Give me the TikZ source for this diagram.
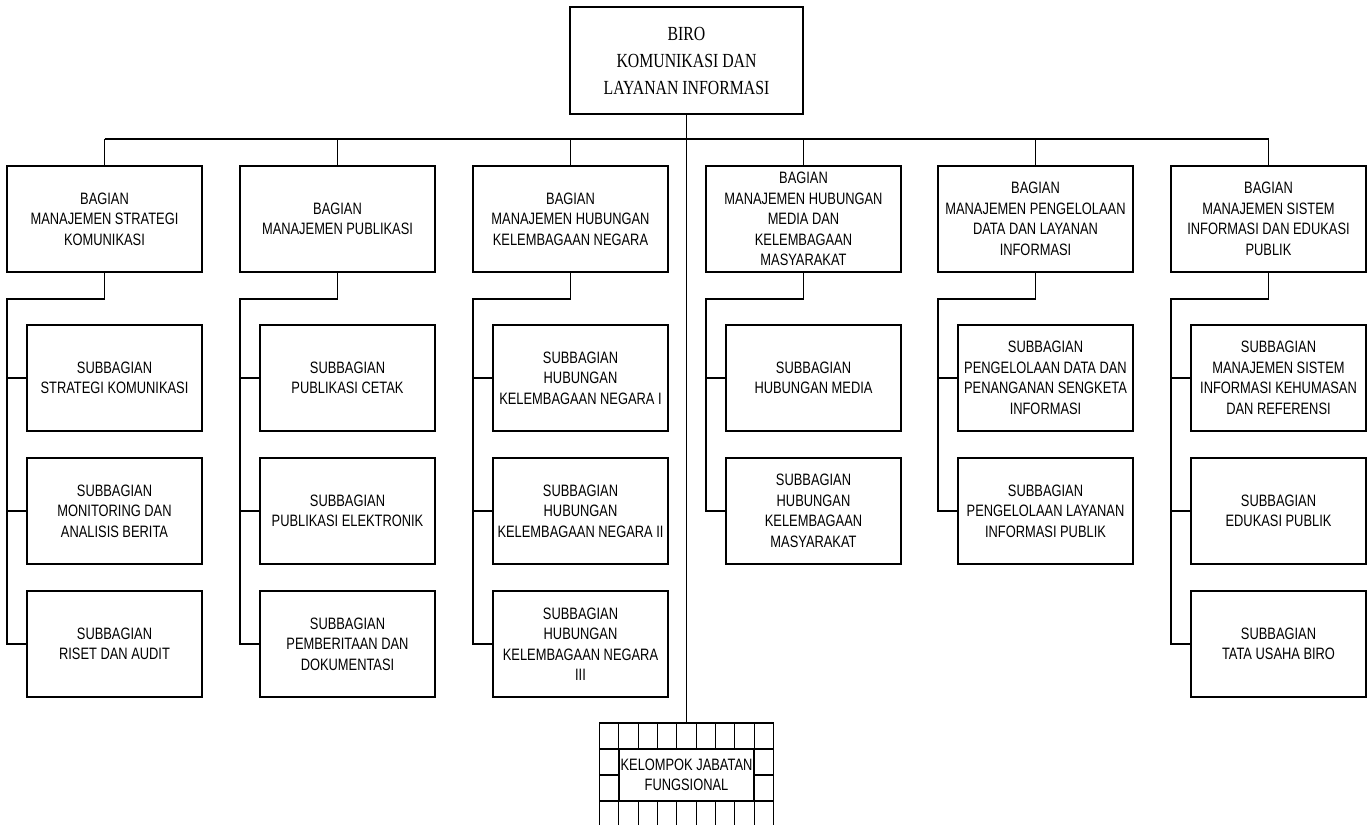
\documentclass[tikz,border=0pt]{standalone}
\usepackage{fontspec}
\usetikzlibrary{calc}
\newfontfamily\narrowsans[FakeStretch=0.78]{Liberation Sans}
\newfontfamily\narrowserif[FakeStretch=0.79]{Liberation Serif}
\begin{document}
\begin{tikzpicture}[x=1pt,y=-1pt,line width=1.2pt,
  unitbox/.style={draw, line width=1.2pt, inner sep=0pt, outer sep=0pt, align=center,
    font=\narrowsans\fontsize{16.5}{20.5}\selectfont},
  bagbox/.style={unitbox, minimum width=195pt, minimum height=106pt},
  subbox/.style={unitbox, minimum width=175pt, minimum height=106pt},
  link/.style={draw, line width=1.2pt}]
\useasboundingbox (0,0) rectangle (1369,825);

% head of the bureau
\node[draw, inner sep=0pt, outer sep=0pt, minimum width=233pt, minimum height=107pt, align=center,
  font=\narrowserif\fontsize{20}{27}\selectfont] (biro) at (686.5,60.5)
  {BIRO\\KOMUNIKASI DAN\\LAYANAN INFORMASI};

% divisions
\node[bagbox] (b1) at (104.5,219) {BAGIAN\\MANAJEMEN STRATEGI\\KOMUNIKASI};
\node[bagbox] (b2) at (337.5,219) {BAGIAN\\MANAJEMEN PUBLIKASI};
\node[bagbox] (b3) at (570.5,219) {BAGIAN\\MANAJEMEN HUBUNGAN\\KELEMBAGAAN NEGARA};
\node[bagbox] (b4) at (803.5,219) {BAGIAN\\MANAJEMEN HUBUNGAN\\MEDIA DAN\\KELEMBAGAAN\\MASYARAKAT};
\node[bagbox] (b5) at (1035.5,219) {BAGIAN\\MANAJEMEN PENGELOLAAN\\DATA DAN LAYANAN\\INFORMASI};
\node[bagbox] (b6) at (1268.5,219) {BAGIAN\\MANAJEMEN SISTEM\\INFORMASI DAN EDUKASI\\PUBLIK};

% sub-divisions
\node[subbox] (s11) at (114.5,378) {SUBBAGIAN\\STRATEGI KOMUNIKASI};
\node[subbox] (s12) at (114.5,511) {SUBBAGIAN\\MONITORING DAN\\ANALISIS BERITA};
\node[subbox] (s13) at (114.5,644) {SUBBAGIAN\\RISET DAN AUDIT};

\node[subbox] (s21) at (347.5,378) {SUBBAGIAN\\PUBLIKASI CETAK};
\node[subbox] (s22) at (347.5,511) {SUBBAGIAN\\PUBLIKASI ELEKTRONIK};
\node[subbox] (s23) at (347.5,644) {SUBBAGIAN\\PEMBERITAAN DAN\\DOKUMENTASI};

\node[subbox] (s31) at (580.5,378) {SUBBAGIAN\\HUBUNGAN\\KELEMBAGAAN NEGARA I};
\node[subbox] (s32) at (580.5,511) {SUBBAGIAN\\HUBUNGAN\\KELEMBAGAAN NEGARA II};
\node[subbox] (s33) at (580.5,644) {SUBBAGIAN\\HUBUNGAN\\KELEMBAGAAN NEGARA\\III};

\node[subbox] (s41) at (813.5,378) {SUBBAGIAN\\HUBUNGAN MEDIA};
\node[subbox] (s42) at (813.5,511) {SUBBAGIAN\\HUBUNGAN\\KELEMBAGAAN\\MASYARAKAT};

\node[subbox] (s51) at (1045.5,378) {SUBBAGIAN\\PENGELOLAAN DATA DAN\\PENANGANAN SENGKETA\\INFORMASI};
\node[subbox] (s52) at (1045.5,511) {SUBBAGIAN\\PENGELOLAAN LAYANAN\\INFORMASI PUBLIK};

\node[subbox] (s61) at (1278.5,378) {SUBBAGIAN\\MANAJEMEN SISTEM\\INFORMASI KEHUMASAN\\DAN REFERENSI};
\node[subbox] (s62) at (1278.5,511) {SUBBAGIAN\\EDUKASI PUBLIK};
\node[subbox] (s63) at (1278.5,644) {SUBBAGIAN\\TATA USAHA BIRO};

% functional group block
\node[inner sep=0pt, outer sep=0pt, minimum width=174pt, minimum height=104pt] (kjf) at (686.5,775) {};
\node[unitbox, minimum width=135pt, minimum height=52pt] (kjftext) at (686.5,775) {KELOMPOK JABATAN\\FUNGSIONAL};
\draw (kjf.south west) |- (kjf.north east) -- (kjf.south east);
\foreach \k in {1,...,8} {
  \draw ($(kjf.north west)!\k/9!(kjf.north east)$) -- ++(0,26);
  \draw ($(kjf.south west)!\k/9!(kjf.south east)$) -- ++(0,-26);
}
\draw (kjf.west |- kjftext.north) -- (kjftext.north west);
\draw (kjf.west) -- (kjftext.west);
\draw (kjf.west |- kjftext.south) -- (kjftext.south west);
\draw (kjf.east |- kjftext.north) -- (kjftext.north east);
\draw (kjf.east) -- (kjftext.east);
\draw (kjf.east |- kjftext.south) -- (kjftext.south east);

% main bus
\coordinate (busL) at (104.5,139);
\coordinate (busR) at (1268.5,139);
\draw[link] (busL) -- (busR);
\draw[link] (biro.south) -- (kjf.north);
\foreach \b in {b1,b2,b3,b4,b5,b6}
  \draw[link] (\b.north) -- (\b.north |- busL);

% spines to sub-divisions
\coordinate (j1) at (7,299);
\coordinate (j2) at (240,299);
\coordinate (j3) at (473,299);
\coordinate (j4) at (706,299);
\coordinate (j5) at (938,299);
\coordinate (j6) at (1171,299);

\draw[link] (b1.south) |- (j1) |- (s13.west);
\draw[link] (j1 |- s11.west) -- (s11.west);
\draw[link] (j1 |- s12.west) -- (s12.west);

\draw[link] (b2.south) |- (j2) |- (s23.west);
\draw[link] (j2 |- s21.west) -- (s21.west);
\draw[link] (j2 |- s22.west) -- (s22.west);

\draw[link] (b3.south) |- (j3) |- (s33.west);
\draw[link] (j3 |- s31.west) -- (s31.west);
\draw[link] (j3 |- s32.west) -- (s32.west);

\draw[link] (b4.south) |- (j4) |- (s42.west);
\draw[link] (j4 |- s41.west) -- (s41.west);

\draw[link] (b5.south) |- (j5) |- (s52.west);
\draw[link] (j5 |- s51.west) -- (s51.west);

\draw[link] (b6.south) |- (j6) |- (s63.west);
\draw[link] (j6 |- s61.west) -- (s61.west);
\draw[link] (j6 |- s62.west) -- (s62.west);
\end{tikzpicture}
\end{document}
